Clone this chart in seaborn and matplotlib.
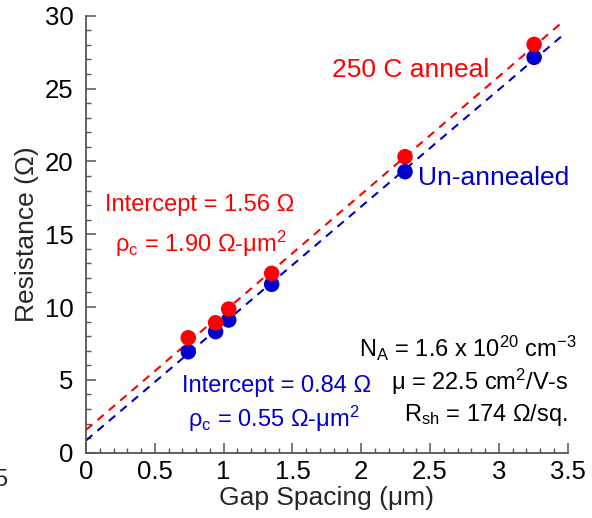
import matplotlib
matplotlib.use("Agg")
import matplotlib.pyplot as plt
import seaborn as sns
import numpy as np
import pandas as pd

# ---- data ----
gap_um = [0.743, 0.942, 1.037, 1.349, 2.318, 3.256]
r_annealed = [7.89, 8.92, 9.86, 12.31, 20.32, 28.03]
r_unannealed = [6.93, 8.31, 9.11, 11.56, 19.29, 27.14]
fit_intercept = {"annealed": 1.56, "unannealed": 0.84}
fit_slope = {"annealed": 8.09, "unannealed": 8.03}
fit_x_range = [0.0, 3.457]

x_ticks = [0, 0.5, 1, 1.5, 2, 2.5, 3, 3.5]
x_tick_labels = ["0", "0.5", "1", "1.5", "2", "2.5", "3", "3.5"]
y_ticks = [0, 5, 10, 15, 20, 25, 30]

RED = "#ff0000"
BLUE = "#0000cc"

sns.set_style("ticks")
plt.rcParams["font.family"] = ["Liberation Sans", "DejaVu Sans"]
plt.rcParams["mathtext.fontset"] = "custom"
plt.rcParams["mathtext.rm"] = "Liberation Sans"
plt.rcParams["mathtext.it"] = "Liberation Sans:italic"
plt.rcParams["mathtext.bf"] = "Liberation Sans:bold"

fig = plt.figure(figsize=(5.92, 5.18), dpi=100)
ax = fig.add_axes([86 / 592, 1 - 452.7 / 518, (567.7 - 86) / 592, (452.7 - 15.7) / 518])

# fit lines
for key, col in [("annealed", RED), ("unannealed", BLUE)]:
    xs = np.array(fit_x_range)
    df_line = pd.DataFrame({"x": xs, "y": fit_intercept[key] + fit_slope[key] * xs})
    sns.lineplot(data=df_line, x="x", y="y", ax=ax, color=col, lw=1.5,
                 linestyle=(0, (4, 3.2)), zorder=2)

df_pts = pd.DataFrame({
    "x": gap_um + gap_um,
    "y": r_unannealed + r_annealed,
    "set": ["Un-annealed"] * len(gap_um) + ["250 C anneal"] * len(gap_um),
})
sns.scatterplot(data=df_pts, x="x", y="y", hue="set",
                palette={"Un-annealed": BLUE, "250 C anneal": RED},
                s=125, edgecolor="none", ax=ax, legend=False, zorder=3)

ax.set_xlim(0, 3.5)
ax.set_ylim(0, 30)
ax.set_xticks(x_ticks)
ax.set_xticklabels(x_tick_labels)
ax.set_yticks(y_ticks)
ax.set_xticks(np.arange(0, 3.51, 0.1), minor=True)
ax.set_yticks(np.arange(0, 30.1, 1), minor=True)

for s in ["top", "right"]:
    ax.spines[s].set_visible(False)
for s in ["left", "bottom"]:
    ax.spines[s].set_color("#555555")
    ax.spines[s].set_linewidth(1.3)
ax.tick_params(which="major", direction="in", length=7, width=1.1, color="#555555",
               labelsize=18.5, labelcolor="black")
ax.tick_params(which="minor", direction="in", length=3.5, width=1.0, color="#555555")
ax.tick_params(axis="y", pad=9)
ax.tick_params(axis="x", pad=5.5)

ax.set_xlabel("Gap Spacing (μm)", fontsize=19, labelpad=1)
ax.set_ylabel("Resistance (Ω)", fontsize=19, labelpad=4)

# annotations
ax.text(1.786, 25.8, "250 C anneal", color=RED, fontsize=19)
ax.text(2.41, 18.37, "Un-annealed", color=BLUE, fontsize=19)
ax.text(0.138, 16.6, "Intercept = 1.56 Ω", color=RED, fontsize=17)
ax.text(0.211, 13.8, "ρ$_\\mathrm{c}$ = 1.90 Ω-μm$^\\mathrm{2}$", color=RED, fontsize=17)
ax.text(0.695, 4.19, "Intercept = 0.84 Ω", color=BLUE, fontsize=17)
ax.text(0.744, 1.78, "ρ$_\\mathrm{c}$ = 0.55 Ω-μm$^\\mathrm{2}$", color=BLUE, fontsize=17)

ax.text(3.566, 6.6, "N$_\\mathrm{A}$ = 1.6 x 10$^\\mathrm{20}$ cm$^\\mathrm{-3}$",
        color="black", fontsize=17, ha="right", clip_on=False)
ax.text(3.508, 4.30, "μ = 22.5 cm$^\\mathrm{2}$/V-s", color="black", fontsize=17, ha="right",
        clip_on=False)
ax.text(3.50, 2.18, "R$_\\mathrm{sh}$ = 174 Ω/sq.", color="black", fontsize=17, ha="right",
        clip_on=False)

# stray clipped label at left edge
fig.text(7 / 592, 1 - 486 / 518, "5", fontsize=17, ha="right", va="baseline")

fig.savefig("out.png", dpi=100)
